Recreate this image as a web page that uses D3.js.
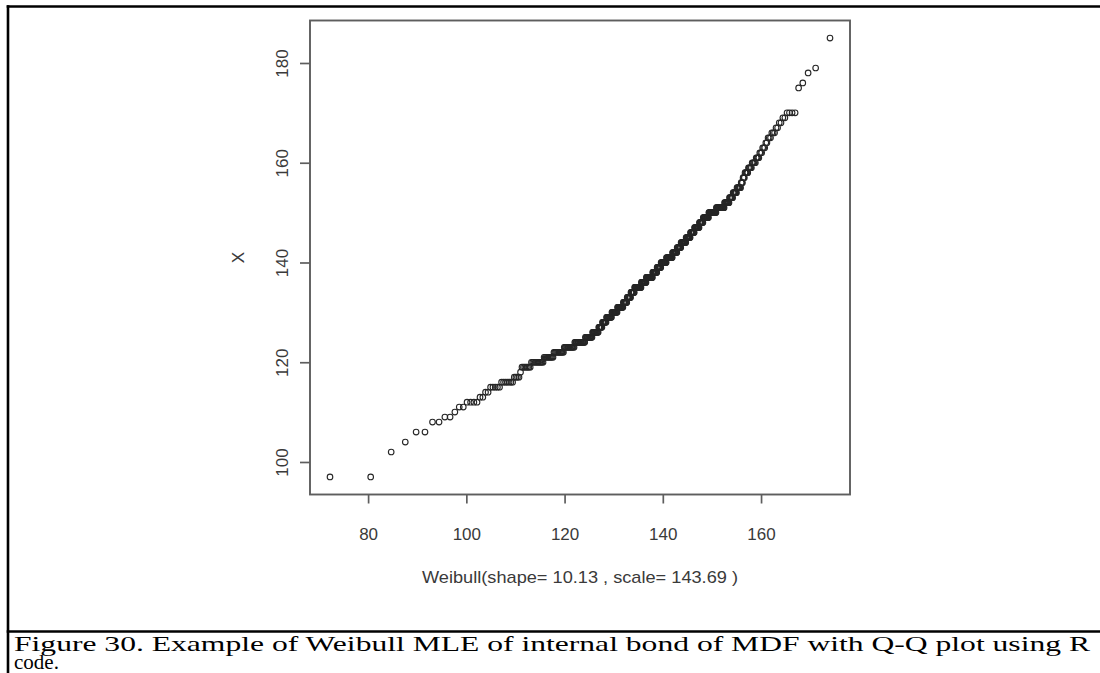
<!DOCTYPE html>
<html>
<head>
<meta charset="utf-8">
<script src="https://cdn.jsdelivr.net/npm/d3@7"></script>
<style>
  html, body { margin: 0; padding: 0; background: #fff; }
  svg { display: block; }
</style>
</head>
<body>
<svg id="fig" width="1100" height="673"></svg>
<script>
// Internal bond sample (sorted), stored as distinct values and their multiplicity
const bondValues = [97,102,104,106,108,109,110,111,112,113,114,115,116,117,118,119,120,121,122,123,124,125,126,127,128,129,130,131,132,133,134,135,136,137,138,139,140,141,142,143,144,145,146,147,148,149,150,151,152,153,154,155,156,157,158,159,160,161,162,163,164,165,166,167,168,169,170,175,176,178,179,185];
const bondCounts = [2,1,1,2,2,2,1,2,4,2,2,5,7,4,1,7,11,10,12,14,16,12,11,7,8,11,12,13,9,9,9,17,13,17,12,11,15,17,13,11,14,12,11,13,10,14,18,18,10,7,7,7,3,3,5,5,5,4,3,3,2,3,3,2,2,2,4,1,1,1,1,1];

// Fitted Weibull parameters (MLE)
const weibullShape = 10.13;
const weibullScale = 143.69;

const xTicks = [80, 100, 120, 140, 160];
const yTicks = [100, 120, 140, 160, 180];
const xTitle = "Weibull(shape= 10.13 , scale= 143.69 )";
const yTitle = "X";
const captionLines = [
  "Figure 30. Example of Weibull MLE of internal bond of MDF with Q-Q plot using R",
  "code."
];

// Expand the sample and pair each order statistic with its theoretical quantile
const sample = bondValues.flatMap((v, i) => d3.range(bondCounts[i]).map(() => v));
const n = sample.length;
const qweibull = p => weibullScale * Math.pow(-Math.log(1 - p), 1 / weibullShape);
const points = sample.map((y, i) => ({ x: qweibull((i + 0.5) / n), y }));

// Plot region
const box = { left: 310, right: 850, top: 20.5, bottom: 494.5 };
const pad = ([a, b]) => [a - 0.04 * (b - a), b + 0.04 * (b - a)];

const x = d3.scaleLinear().domain(pad(d3.extent(points, d => d.x))).range([box.left, box.right]);
const y = d3.scaleLinear().domain(pad(d3.extent(points, d => d.y))).range([box.bottom, box.top]);

const svg = d3.select("#fig");
const axisColor = "#5e5e5e";
const labelColor = "#3a3a3a";
const sansFont = "'Liberation Sans', Arial, sans-serif";
const plotFontSize = 17;

// Document frame lines
const frame = svg.append("g").attr("stroke", "#000").attr("stroke-width", 2.6);
frame.append("line").attr("x1", 6.7).attr("x2", 1100).attr("y1", 6.5).attr("y2", 6.5);
frame.append("line").attr("x1", 8).attr("x2", 8).attr("y1", 5.2).attr("y2", 673);
frame.append("line").attr("x1", 6.7).attr("x2", 1100).attr("y1", 631.5).attr("y2", 631.5);

// Points
svg.append("g")
  .selectAll("circle")
  .data(points)
  .join("circle")
  .attr("cx", d => x(d.x))
  .attr("cy", d => y(d.y))
  .attr("r", 2.8)
  .attr("fill", "none")
  .attr("stroke", "#262626")
  .attr("stroke-width", 1.1);

// Plot box
svg.append("rect")
  .attr("x", box.left).attr("y", box.top)
  .attr("width", box.right - box.left).attr("height", box.bottom - box.top)
  .attr("fill", "none").attr("stroke", axisColor).attr("stroke-width", 1.9);

// Axes
const xAxis = svg.append("g")
  .attr("transform", `translate(0,${box.bottom})`)
  .call(d3.axisBottom(x).tickValues(xTicks).tickSize(9).tickFormat(d3.format("d")));
const yAxis = svg.append("g")
  .attr("transform", `translate(${box.left},0)`)
  .call(d3.axisLeft(y).tickValues(yTicks).tickSize(10).tickFormat(d3.format("d")));

[xAxis, yAxis].forEach(g => {
  g.select(".domain").remove();
  g.selectAll(".tick line").attr("stroke", axisColor).attr("stroke-width", 1.7);
  g.selectAll(".tick text")
    .attr("fill", labelColor)
    .style("font-family", sansFont)
    .style("font-size", plotFontSize + "px");
});
// x labels: baseline a fixed distance below the box
xAxis.selectAll(".tick text").attr("y", 45).attr("dy", 0);
// y labels: rotated, reading bottom to top, centred on the tick
yAxis.selectAll(".tick text")
  .attr("text-anchor", "middle")
  .attr("x", 0).attr("dy", 0)
  .attr("transform", "translate(-22,0) rotate(-90)");

// Axis titles
svg.append("text")
  .attr("x", (box.left + box.right) / 2).attr("y", 583)
  .attr("text-anchor", "middle")
  .attr("fill", labelColor)
  .attr("textLength", 316).attr("lengthAdjust", "spacingAndGlyphs")
  .style("font-family", sansFont).style("font-size", plotFontSize + "px")
  .text(xTitle);
svg.append("text")
  .attr("transform", `translate(244,${(box.top + box.bottom) / 2}) rotate(-90)`)
  .attr("text-anchor", "middle")
  .attr("fill", labelColor)
  .style("font-family", sansFont).style("font-size", plotFontSize + "px")
  .text(yTitle);

// Caption: two tightly set lines, the first filling the width of the cell
const captionWidths = [1076, null];
const captionText = svg.append("g")
  .selectAll("text")
  .data(captionLines)
  .join("text")
  .attr("x", 14)
  .attr("y", (d, i) => 651 + i * 17.5)
  .attr("fill", "#000")
  .style("font-family", "'Liberation Serif', 'Times New Roman', serif")
  .style("font-size", "21px")
  .text(d => d);
captionText.filter((d, i) => captionWidths[i] !== null)
  .attr("textLength", (d, i) => captionWidths[i])
  .attr("lengthAdjust", "spacingAndGlyphs");
</script>
</body>
</html>
